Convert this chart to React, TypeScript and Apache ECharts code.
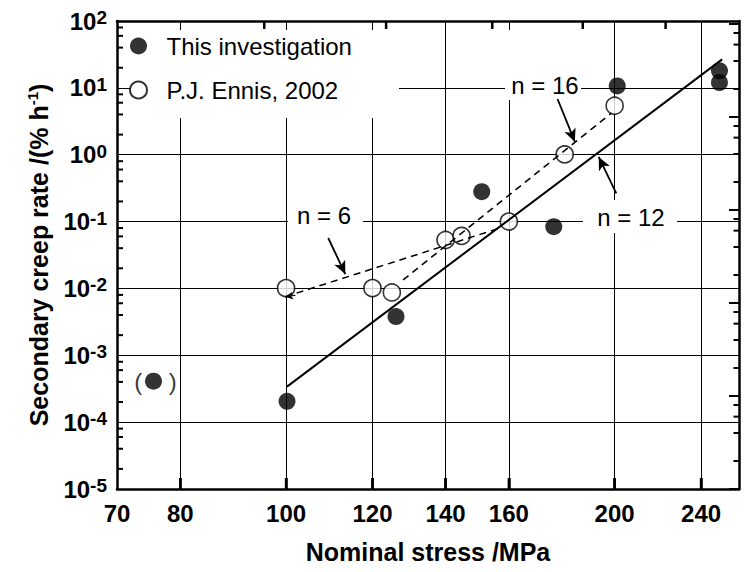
import React, { useEffect, useRef } from 'react';
import * as echarts from 'echarts';

const FONT = '"Liberation Sans", Arial, Helvetica, sans-serif';

// ---- data (nominal stress / MPa, secondary creep rate / %h^-1) ----
const thisStress = [75.6, 100.2, 126.1, 151.1, 175.9, 201.1, 249.5, 249.5];
const thisRate = [4.1e-4, 2.05e-4, 3.8e-3, 0.28, 0.084, 10.7, 18, 12];

const ennisStress = [100, 120, 125, 140, 144.8, 160, 180, 200];
const ennisRate = [0.0101, 0.0101, 0.0087, 0.053, 0.061, 0.1, 1.01, 5.4];

// fitted lines
const n12Stress = [100.2, 250.9];
const n12Rate = [3.4e-4, 26.7];
const n6Stress = [99.8, 157];
const n6Rate = [7.5e-3, 0.08];
const n16Stress = [128, 198.7];
const n16Rate = [0.0134, 4.2];

// annotation arrows [from, to]
const n6Arrow = [[109.3, 0.0568], [113.3, 0.0164]];
const n16Arrow = [[177.3, 6.81], [183.9, 1.566]];
const n12Arrow = [[200.7, 0.265], [193.4, 0.925]];
const n6EndArrow = [[102, 0.0079], [99.8, 0.0075]];

// ---- axes / ticks ----
const X_MIN = 70;
const X_MAX = 260;
const Y_MIN = 1e-5;
const Y_MAX = 100;
const xTickValues = [80, 100, 120, 140, 160, 200, 240];
const xLabelValues = [70, 80, 100, 120, 140, 160, 200, 240];
const xTopTickValues = [95.5, 123.5, 154.5, 187, 222.7];
const yDecades = [1e-5, 1e-4, 1e-3, 1e-2, 1e-1, 1, 10, 100];
const minorMultipliers = [2, 4, 6, 8];
const rightDecades = [1, 10, 100, 1000, 10000, 100000];
const RIGHT_MAX = 107650;

const yMinorValues = yDecades.slice(0, -1).flatMap((d) => minorMultipliers.map((m) => m * d));
const rightMinorValues = rightDecades.flatMap((d) => minorMultipliers.map((m) => m * d)).filter((v) => v < RIGHT_MAX);

const zip = (xs: number[], ys: number[]) => xs.map((x, i) => [x, ys[i]]);

export default function App() {
  const ref = useRef<HTMLDivElement>(null);
  useEffect(() => {
    document.body.style.margin = '0';
    const chart = echarts.init(ref.current!, null, { renderer: 'svg' });
    const black = '#000';
    const supFmt = (v: number) => {
      const e = Math.round(Math.log10(v));
      return `{b|10}{s|${e}}`;
    };
    const thisData: any[] = zip(thisStress, thisRate).map((p, i) =>
      i === 0
        ? {
            value: p,
            label: {
              show: true,
              position: 'inside',
              formatter: '(    )',
              fontSize: 24,
              fontFamily: FONT,
              color: black,
              offset: [2, 0],
            },
          }
        : p
    );
    const arrowLine = (a: number[][]) => [{ coord: a[0] }, { coord: a[1] }];

    // tick marks placed through the axes' scales (api.coord)
    const tickSeries = (data: number[][], dx: number, dy: number, width: number, yAxisIndex: number) => ({
      type: 'custom',
      xAxisIndex: 0,
      yAxisIndex,
      data,
      z: 5,
      renderItem: (_p: any, api: any) => {
        const pt = api.coord([api.value(0), api.value(1)]);
        return {
          type: 'line',
          shape: { x1: pt[0], y1: pt[1], x2: pt[0] + dx, y2: pt[1] + dy },
          style: { stroke: '#000', lineWidth: width },
        };
      },
    });

    const option: any = {
      animation: false,
      grid: { left: 117, right: 6, top: 21, bottom: 83 },
      legend: {
        data: ['This investigation', 'P.J. Ennis, 2002'],
        orient: 'vertical',
        left: 129,
        top: 32,
        padding: 0,
        itemWidth: 46,
        itemHeight: 17,
        itemGap: 16,
        selectedMode: false,
        textStyle: { fontSize: 24, fontFamily: FONT, color: black, lineHeight: 28 },
        z: 6,
      },
      xAxis: [
        {
          type: 'log',
          min: X_MIN,
          max: X_MAX,
          position: 'bottom',
          name: 'Nominal stress /MPa',
          nameLocation: 'middle',
          nameGap: 50,
          nameTextStyle: { fontSize: 25, fontWeight: 'bold', fontFamily: FONT, color: black },
          axisLine: { show: true, onZero: false, lineStyle: { color: black, width: 2.5 } },
          axisTick: { show: true, inside: true, length: 11, lineStyle: { color: black, width: 2.5 }, customValues: xTickValues },
          axisLabel: {
            customValues: xLabelValues,
            formatter: (v: number) => String(Math.round(v)),
            fontSize: 24,
            fontWeight: 'bold',
            fontFamily: FONT,
            color: black,
            margin: 12,
          },
          splitLine: { show: true, lineStyle: { color: black, width: 1 } },
        },
        {
          type: 'log',
          min: X_MIN,
          max: X_MAX,
          position: 'top',
          axisLine: { show: true, onZero: false, lineStyle: { color: black, width: 2.5 } },
          axisTick: { show: false },
          axisLabel: { show: false },
          splitLine: { show: false },
        },
      ],
      yAxis: [
        {
          type: 'log',
          min: Y_MIN,
          max: Y_MAX,
          position: 'left',
          name: 'Secondary creep rate /(% h{s|-1})',
          nameLocation: 'middle',
          nameGap: 64,
          nameTextStyle: {
            fontSize: 25,
            fontWeight: 'bold',
            fontFamily: FONT,
            color: black,
            lineHeight: 28,
            rich: { s: { fontSize: 15, fontWeight: 'bold', fontFamily: FONT, color: black, lineHeight: 15, verticalAlign: 'top' } },
          },
          axisLine: { show: true, onZero: false, lineStyle: { color: black, width: 2.5 } },
          axisTick: { show: false, customValues: yDecades },
          axisLabel: {
            customValues: yDecades,
            formatter: supFmt,
            margin: 10,
            rich: {
              b: { fontSize: 24, fontWeight: 'bold', fontFamily: FONT, color: black, lineHeight: 26 },
              s: { fontSize: 19, fontWeight: 'bold', fontFamily: FONT, color: black, lineHeight: 19, verticalAlign: 'top' },
            },
          },
          splitLine: { show: true, lineStyle: { color: black, width: 1 } },
        },
        {
          type: 'log',
          min: 1,
          max: RIGHT_MAX,
          position: 'right',
          axisLine: { show: true, onZero: false, lineStyle: { color: black, width: 2.5 } },
          axisTick: { show: false },
          axisLabel: { show: false },
          splitLine: { show: false },
        },
      ],
      graphic: [
        { type: 'rect', shape: { x: 131, y: 30, width: 268, height: 88 }, style: { fill: '#fff' }, z: 1 },
        { type: 'rect', shape: { x: 288, y: 200, width: 75, height: 32 }, style: { fill: '#fff' }, z: 1 },
        { type: 'rect', shape: { x: 505, y: 30, width: 76, height: 70 }, style: { fill: '#fff' }, z: 1 },
        { type: 'rect', shape: { x: 583, y: 200, width: 94, height: 33 }, style: { fill: '#fff' }, z: 1 },
        { type: 'text', x: 324, y: 215, style: { text: 'n = 6', fontSize: 24, fontFamily: FONT, fill: black, align: 'center', verticalAlign: 'middle' }, z: 1 },
        { type: 'text', x: 545, y: 85, style: { text: 'n = 16', fontSize: 24, fontFamily: FONT, fill: black, align: 'center', verticalAlign: 'middle' }, z: 1 },
        { type: 'text', x: 631, y: 217, style: { text: 'n = 12', fontSize: 24, fontFamily: FONT, fill: black, align: 'center', verticalAlign: 'middle' }, z: 1 },
      ],
      series: [
        {
          name: 'P.J. Ennis, 2002',
          type: 'scatter',
          symbol: 'circle',
          symbolSize: 17,
          data: zip(ennisStress, ennisRate),
          itemStyle: { color: '#fff', borderColor: black, borderWidth: 1.6 },
          z: 2,
        },
        {
          name: 'n12',
          type: 'line',
          data: zip(n12Stress, n12Rate),
          symbol: 'none',
          lineStyle: { color: black, width: 2 },
          silent: true,
          z: 3,
          markLine: {
            silent: true,
            symbol: ['none', 'arrow'],
            symbolSize: [9, 13],
            label: { show: false },
            lineStyle: { color: black, width: 1.8, type: 'solid' },
            data: [arrowLine(n6Arrow), arrowLine(n16Arrow), arrowLine(n12Arrow)],
          },
        },
        {
          name: 'n6',
          type: 'line',
          data: zip(n6Stress, n6Rate),
          symbol: 'none',
          lineStyle: { color: black, width: 1.5, type: [7, 5] },
          silent: true,
          z: 3,
          markLine: {
            silent: true,
            symbol: ['none', 'arrow'],
            symbolSize: [6, 8],
            label: { show: false },
            lineStyle: { color: black, width: 1.2, type: 'solid' },
            data: [arrowLine(n6EndArrow)],
          },
        },
        {
          name: 'n16',
          type: 'line',
          data: zip(n16Stress, n16Rate),
          symbol: 'none',
          lineStyle: { color: black, width: 1.5, type: [7, 5] },
          silent: true,
          z: 3,
        },
        {
          name: 'This investigation',
          type: 'scatter',
          symbol: 'circle',
          symbolSize: 17,
          data: thisData,
          itemStyle: { color: black },
          z: 4,
        },
        tickSeries(yMinorValues.map((v) => [X_MIN, v]), 6, 0, 2, 0),
        tickSeries(xTickValues.map((v) => [v, Y_MIN]), 0, -11, 2.5, 0),
        tickSeries(xTopTickValues.map((v) => [v, Y_MAX]), 0, 8, 2.5, 0),
        tickSeries(rightDecades.map((v) => [X_MAX, v]), -10, 0, 2, 1),
        tickSeries(rightMinorValues.map((v) => [X_MAX, v]), -5.5, 0, 2, 1),
      ],
    };
    chart.setOption(option);
    return () => chart.dispose();
  }, []);
  return <div ref={ref} style={{ width: 745, height: 572 }} />;
}
